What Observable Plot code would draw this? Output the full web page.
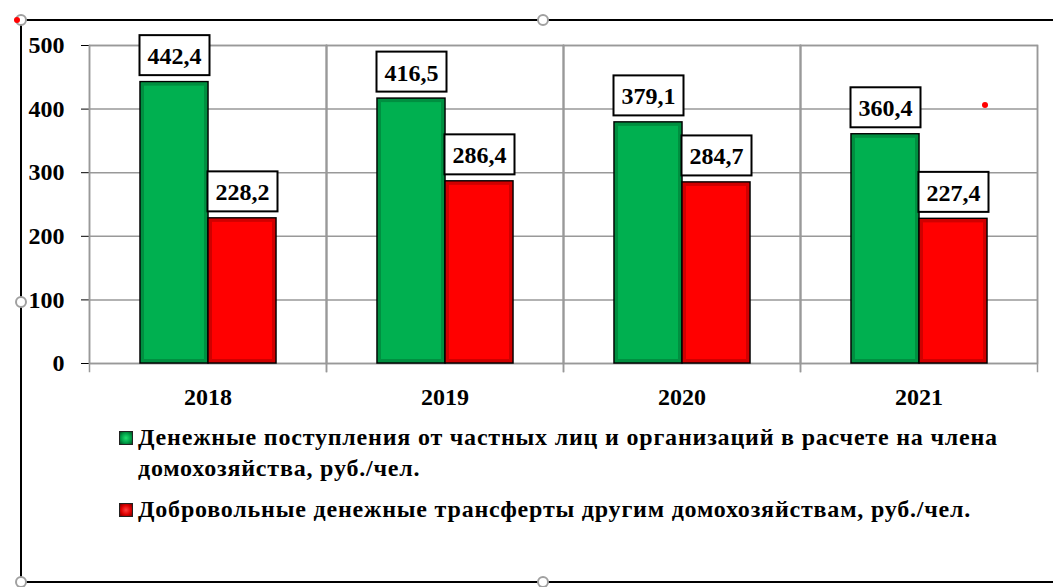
<!DOCTYPE html>
<html>
<head>
<meta charset="utf-8">
<script src="https://cdn.jsdelivr.net/npm/d3@7"></script>
<script src="https://cdn.jsdelivr.net/npm/@observablehq/plot@0.6"></script>
<style>
  html, body { margin: 0; padding: 0; background: #fff; }
  #wrap { position: relative; width: 1053px; height: 587px; overflow: hidden; font-family: "Liberation Serif", Tinos, "DejaVu Serif", serif; font-weight: bold; }
  #chart svg { display: block; }
  g[aria-label="y-axis tick"] { stroke: #999; }
  g[aria-label="y-axis"] .tick line { stroke: #999; }
  .line { position: absolute; background: #000; }
  .handle { position: absolute; width: 12px; height: 12px; border-radius: 50%; border: 2.5px solid #a0a0a0; background: #fff; box-sizing: border-box; }
  .rdot { position: absolute; width: 6px; height: 6px; border-radius: 50%; background: #f00; }
  #legend { position: absolute; left: 119px; top: 422px; font-size: 24px; letter-spacing: 0.8px; line-height: 31px; color: #000; white-space: nowrap; }
  .item { display: flex; align-items: flex-start; margin-bottom: 10px; }
  .sw { width: 14px; height: 14px; margin-top: 9px; margin-right: 5px; flex: none; box-sizing: border-box; border: 1px solid #222; }
</style>
</head>
<body>
<div id="wrap">
  <div class="line" style="left:20px; top:19px; width:1033px; height:2px;"></div>
  <div class="line" style="left:20px; top:19px; width:2px; height:564px;"></div>
  <div class="line" style="left:20px; top:581px; width:1033px; height:2px;"></div>
  <div id="chart" style="position:absolute; left:0; top:0;"></div>
  <div id="legend"></div>
  <div class="handle" style="left:15px; top:14px;"></div>
  <div class="handle" style="left:537px; top:14px;"></div>
  <div class="handle" style="left:15px; top:296px;"></div>
  <div class="handle" style="left:15px; top:576px;"></div>
  <div class="handle" style="left:537px; top:576px;"></div>
  <div class="rdot" style="left:14px; top:17px;"></div>
  <div class="rdot" style="left:982px; top:102px;"></div>
</div>
<script>
const years = ["2018", "2019", "2020", "2021"];
const incoming = [442.4, 416.5, 379.1, 360.4];
const transfers = [228.2, 286.4, 284.7, 227.4];
const seriesNames = [
  "Денежные поступления от частных лиц и организаций в расчете на члена домохозяйства, руб./чел.",
  "Добровольные денежные трансферты другим домохозяйствам, руб./чел."
];
const legendLines = [
  ["Денежные поступления от частных лиц и организаций в расчете на члена", "домохозяйства, руб./чел."],
  ["Добровольные денежные трансферты другим домохозяйствам, руб./чел."]
];
const seriesColors = ["#00b050", "#ff0000"];
const edgeColors = ["#007a36", "#b00000"];
const yTicks = [0, 100, 200, 300, 400, 500];

const data = [];
years.forEach((yr, i) => {
  data.push({year: yr, series: seriesNames[0], value: incoming[i]});
  data.push({year: yr, series: seriesNames[1], value: transfers[i]});
});
const fmt = v => d3.format(".1f")(v).replace(".", ",");
const edgeOf = d => edgeColors[seriesNames.indexOf(d.series)];

const plot = Plot.plot({
  width: 1053,
  height: 415,
  marginLeft: 88,
  marginRight: 16,
  marginTop: 45,
  marginBottom: 52,
  style: {fontFamily: "'Liberation Serif', Tinos, 'DejaVu Serif', serif", fontWeight: "bold", fontSize: "24px", color: "#000", background: "transparent", overflow: "visible"},
  fx: {domain: years, padding: 0, label: null, tickSize: 0, tickPadding: 24},
  x: {domain: seriesNames, paddingInner: 0, paddingOuter: 0.74, axis: null},
  y: {domain: [0, 500], ticks: yTicks, tickSize: 8, tickPadding: 17, label: null, tickFormat: d3.format("d")},
  color: {domain: seriesNames, range: seriesColors},
  facet: {data: data, x: "year"},
  marks: [
    Plot.ruleY(yTicks, {stroke: "#999", strokeWidth: 1.5}),
    Plot.frame({stroke: "#999", strokeWidth: 1.5}),
    Plot.frame({anchor: "left", stroke: "#999", strokeWidth: 1.5, insetBottom: -8}),
    Plot.frame({anchor: "right", stroke: "#999", strokeWidth: 1.5, insetBottom: -8}),
    Plot.barY(data, {x: "series", y: "value", fill: "series", stroke: "#000", strokeWidth: 1.5}),
    Plot.barY(data, {x: "series", y: "value", fill: "none", stroke: edgeOf, strokeWidth: 3, strokeOpacity: 0.6, inset: 2.5}),
    Plot.text(data, {x: "series", y: "value", text: d => fmt(d.value), lineAnchor: "bottom", dy: -18, fill: "#000", fontSize: 24, fontWeight: "bold"})
  ]
});
document.getElementById("chart").appendChild(plot);

// white boxes behind value labels
plot.querySelectorAll('g[aria-label="text"] text').forEach(t => {
  const b = t.getBBox();
  const r = document.createElementNS("http://www.w3.org/2000/svg", "rect");
  r.setAttribute("x", b.x - 8);
  r.setAttribute("y", b.y - 8);
  r.setAttribute("width", b.width + 16);
  r.setAttribute("height", b.height + 14);
  r.setAttribute("fill", "#fff");
  r.setAttribute("stroke", "#000");
  r.setAttribute("stroke-width", 2);
  const tr = t.getAttribute("transform");
  if (tr) r.setAttribute("transform", tr);
  t.parentNode.insertBefore(r, t);
});

// legend
const legend = document.getElementById("legend");
const swatchBg = [
  "radial-gradient(circle, #20e070 0%, #00a048 55%, #004d20 100%)",
  "radial-gradient(circle, #ff4040 0%, #e00000 55%, #700000 100%)"
];
seriesNames.forEach((name, i) => {
  const item = document.createElement("div");
  item.className = "item";
  const sw = document.createElement("div");
  sw.className = "sw";
  sw.style.background = swatchBg[i];
  const tx = document.createElement("div");
  tx.innerHTML = legendLines[i].join("<br>");
  item.appendChild(sw);
  item.appendChild(tx);
  legend.appendChild(item);
});
</script>
</body>
</html>
